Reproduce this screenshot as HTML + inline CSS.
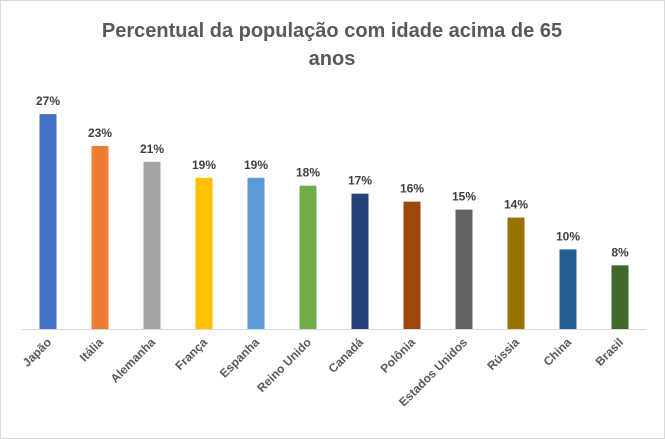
<!DOCTYPE html>
<html><head><meta charset="utf-8"><style>
body{margin:0;background:#fff;}
svg{display:block;font-family:"Liberation Sans",Calibri,sans-serif;}
</style></head><body>
<svg id="chart" width="665" height="439" viewBox="0 0 665 439">
<rect x="0.5" y="0.5" width="664" height="438" fill="#fff" stroke="#d9d9d9"/>
<text x="332" y="37" text-anchor="middle" font-size="20" font-weight="bold" fill="#595959">Percentual da população com idade acima de 65</text>
<text x="332" y="65" text-anchor="middle" font-size="20" font-weight="bold" fill="#595959">anos</text>
<g id="bars"></g>
<line x1="22" y1="329.5" x2="646" y2="329.5" stroke="#d9d9d9"/>
</svg>
<script>
const categories=["Japão","Itália","Alemanha","França","Espanha","Reino Unido","Canadá","Polônia","Estados Unidos","Rússia","China","Brasil"];
const values=[27,23,21,19,19,18,17,16,15,14,10,8];
const colors=["#4472C4","#ED7D31","#A5A5A5","#FFC000","#5B9BD5","#70AD47","#264478","#9E480E","#636363","#997300","#255E91","#43682B"];
const NS="http://www.w3.org/2000/svg";
const g=document.getElementById("bars");
const baseY=329, pxPer=7.96, x0=48, step=52, bw=17;
function xPos(i){return x0+i*step;}
function yPos(v){return baseY-v*pxPer;}
categories.forEach((c,i)=>{
  const x=xPos(i), y=yPos(values[i]);
  const r=document.createElementNS(NS,"rect");
  r.setAttribute("x",x-bw/2);r.setAttribute("y",y);r.setAttribute("width",bw);r.setAttribute("height",baseY-y);r.setAttribute("fill",colors[i]);
  
  
  g.appendChild(r);
  const t=document.createElementNS(NS,"text");
  t.setAttribute("x",x);t.setAttribute("y",y-9);t.setAttribute("text-anchor","middle");t.setAttribute("font-size","12");t.setAttribute("font-weight","bold");t.setAttribute("fill","#404040");
  t.textContent=values[i]+"%";
  
  
  g.appendChild(t);
  const l=document.createElementNS(NS,"text");
  l.setAttribute("transform","translate("+(x+4)+","+(baseY+14)+") rotate(-45)");
  l.setAttribute("text-anchor","end");l.setAttribute("font-size","12");l.setAttribute("font-weight","bold");l.setAttribute("fill","#595959");
  l.textContent=c;
  
  
  g.appendChild(l);
});
</script>
</body></html>
